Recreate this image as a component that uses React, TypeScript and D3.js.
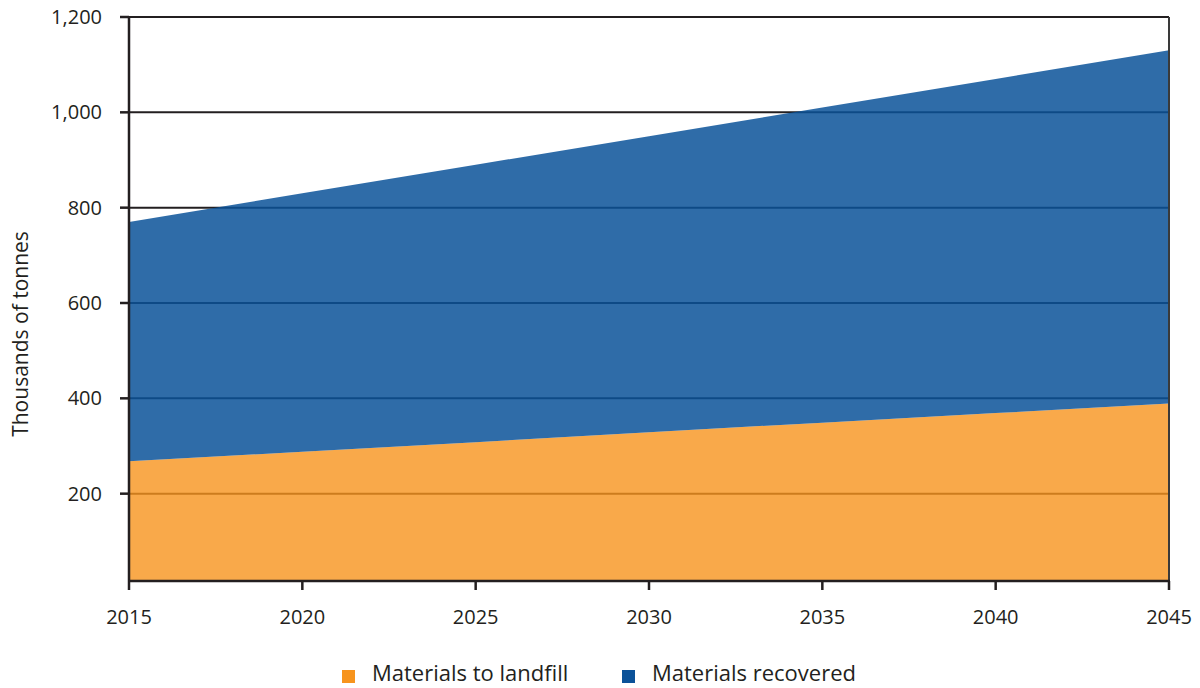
import React from "react";
import * as d3 from "d3";

// Projected waste generation, thousands of tonnes
const years = [2015, 2020, 2025, 2030, 2035, 2040, 2045];
const landfill = [268, 288, 308, 329, 349, 369, 389];
const recovered = [502, 542, 582, 621, 661, 701, 741];

const seriesKeys = ["landfill", "recovered"];
const seriesLabels = ["Materials to landfill", "Materials recovered"];
const seriesColors = ["#f7941d", "#0b5299"];
const seriesOpacity = [0.8, 0.85];

const yTicks = [200, 400, 600, 800, 1000, 1200];
const xTicks = [2015, 2020, 2025, 2030, 2035, 2040, 2045];

const W = 1200;
const H = 688;
const left = 129;
const right = 1169;
const top = 17;
const plotBottom = 581;
const INK = "#231f20";
const FONT = "'Open Sans', sans-serif";

export default function App() {
  const x = d3.scaleLinear().domain([2015, 2045]).range([left, right]);
  const y = d3.scaleLinear().domain([0, 1200]).range([589, top]);

  const rows = years.map((yr, i) => ({
    year: yr,
    landfill: landfill[i],
    recovered: recovered[i],
  }));
  const stacked = d3.stack<any>().keys(seriesKeys)(rows);
  const area = d3
    .area<any>()
    .x((d) => x(d.data.year))
    .y0((d) => y(d[0]))
    .y1((d) => y(d[1]));

  return (
    <svg
      width={W}
      height={H}
      style={{ position: "absolute", left: 0, top: 0, background: "#fff" }}
      fontFamily={FONT}
    >
      <defs>
        <clipPath id="plot">
          <rect x={left} y={top} width={right - left} height={plotBottom - top} />
        </clipPath>
      </defs>

      {/* grid lines sit beneath the translucent areas */}
      {yTicks.map((t) => (
        <line
          key={"g" + t}
          x1={left}
          x2={right}
          y1={y(t)}
          y2={y(t)}
          stroke={INK}
          strokeWidth={2}
        />
      ))}

      <g clipPath="url(#plot)">
        {stacked.map((s, i) => (
          <path
            key={s.key}
            d={area(s) || ""}
            fill={seriesColors[i]}
            fillOpacity={seriesOpacity[i]}
          />
        ))}
      </g>

      {/* frame */}
      <line x1={left} x2={left} y1={top} y2={plotBottom} stroke={INK} strokeWidth={2.5} />
      <line x1={right} x2={right} y1={top} y2={plotBottom} stroke="#3a3a3a" strokeWidth={2} />
      <line x1={left - 1} x2={right + 1} y1={plotBottom} y2={plotBottom} stroke={INK} strokeWidth={2.5} />

      {/* y axis */}
      {yTicks.map((t) => (
        <g key={"y" + t}>
          <line x1={120} x2={left} y1={y(t)} y2={y(t)} stroke={INK} strokeWidth={2.5} />
          <text
            x={102}
            y={y(t)}
            dy="0.35em"
            textAnchor="end"
            fontSize={20}
            fill={INK}
          >
            {d3.format(",")(t)}
          </text>
        </g>
      ))}

      {/* x axis */}
      {xTicks.map((t) => (
        <g key={"x" + t}>
          <line x1={x(t)} x2={x(t)} y1={plotBottom} y2={590} stroke={INK} strokeWidth={2.5} />
          <text x={x(t)} y={624} textAnchor="middle" fontSize={20} fill={INK}>
            {t}
          </text>
        </g>
      ))}

      <text
        transform={`translate(28, 334) rotate(-90)`}
        textAnchor="middle"
        fontSize={21}
        fill={INK}
      >
        Thousands of tonnes
      </text>

      {/* legend */}
      {[0, 1].map((i) => {
        const lx = [342, 622][i];
        return (
          <g key={"l" + i}>
            <rect x={lx} y={670} width={13} height={13} fill={seriesColors[i]} />
            <text x={lx + 30} y={681} fontSize={22} fill={INK}>
              {seriesLabels[i]}
            </text>
          </g>
        );
      })}
    </svg>
  );
}
